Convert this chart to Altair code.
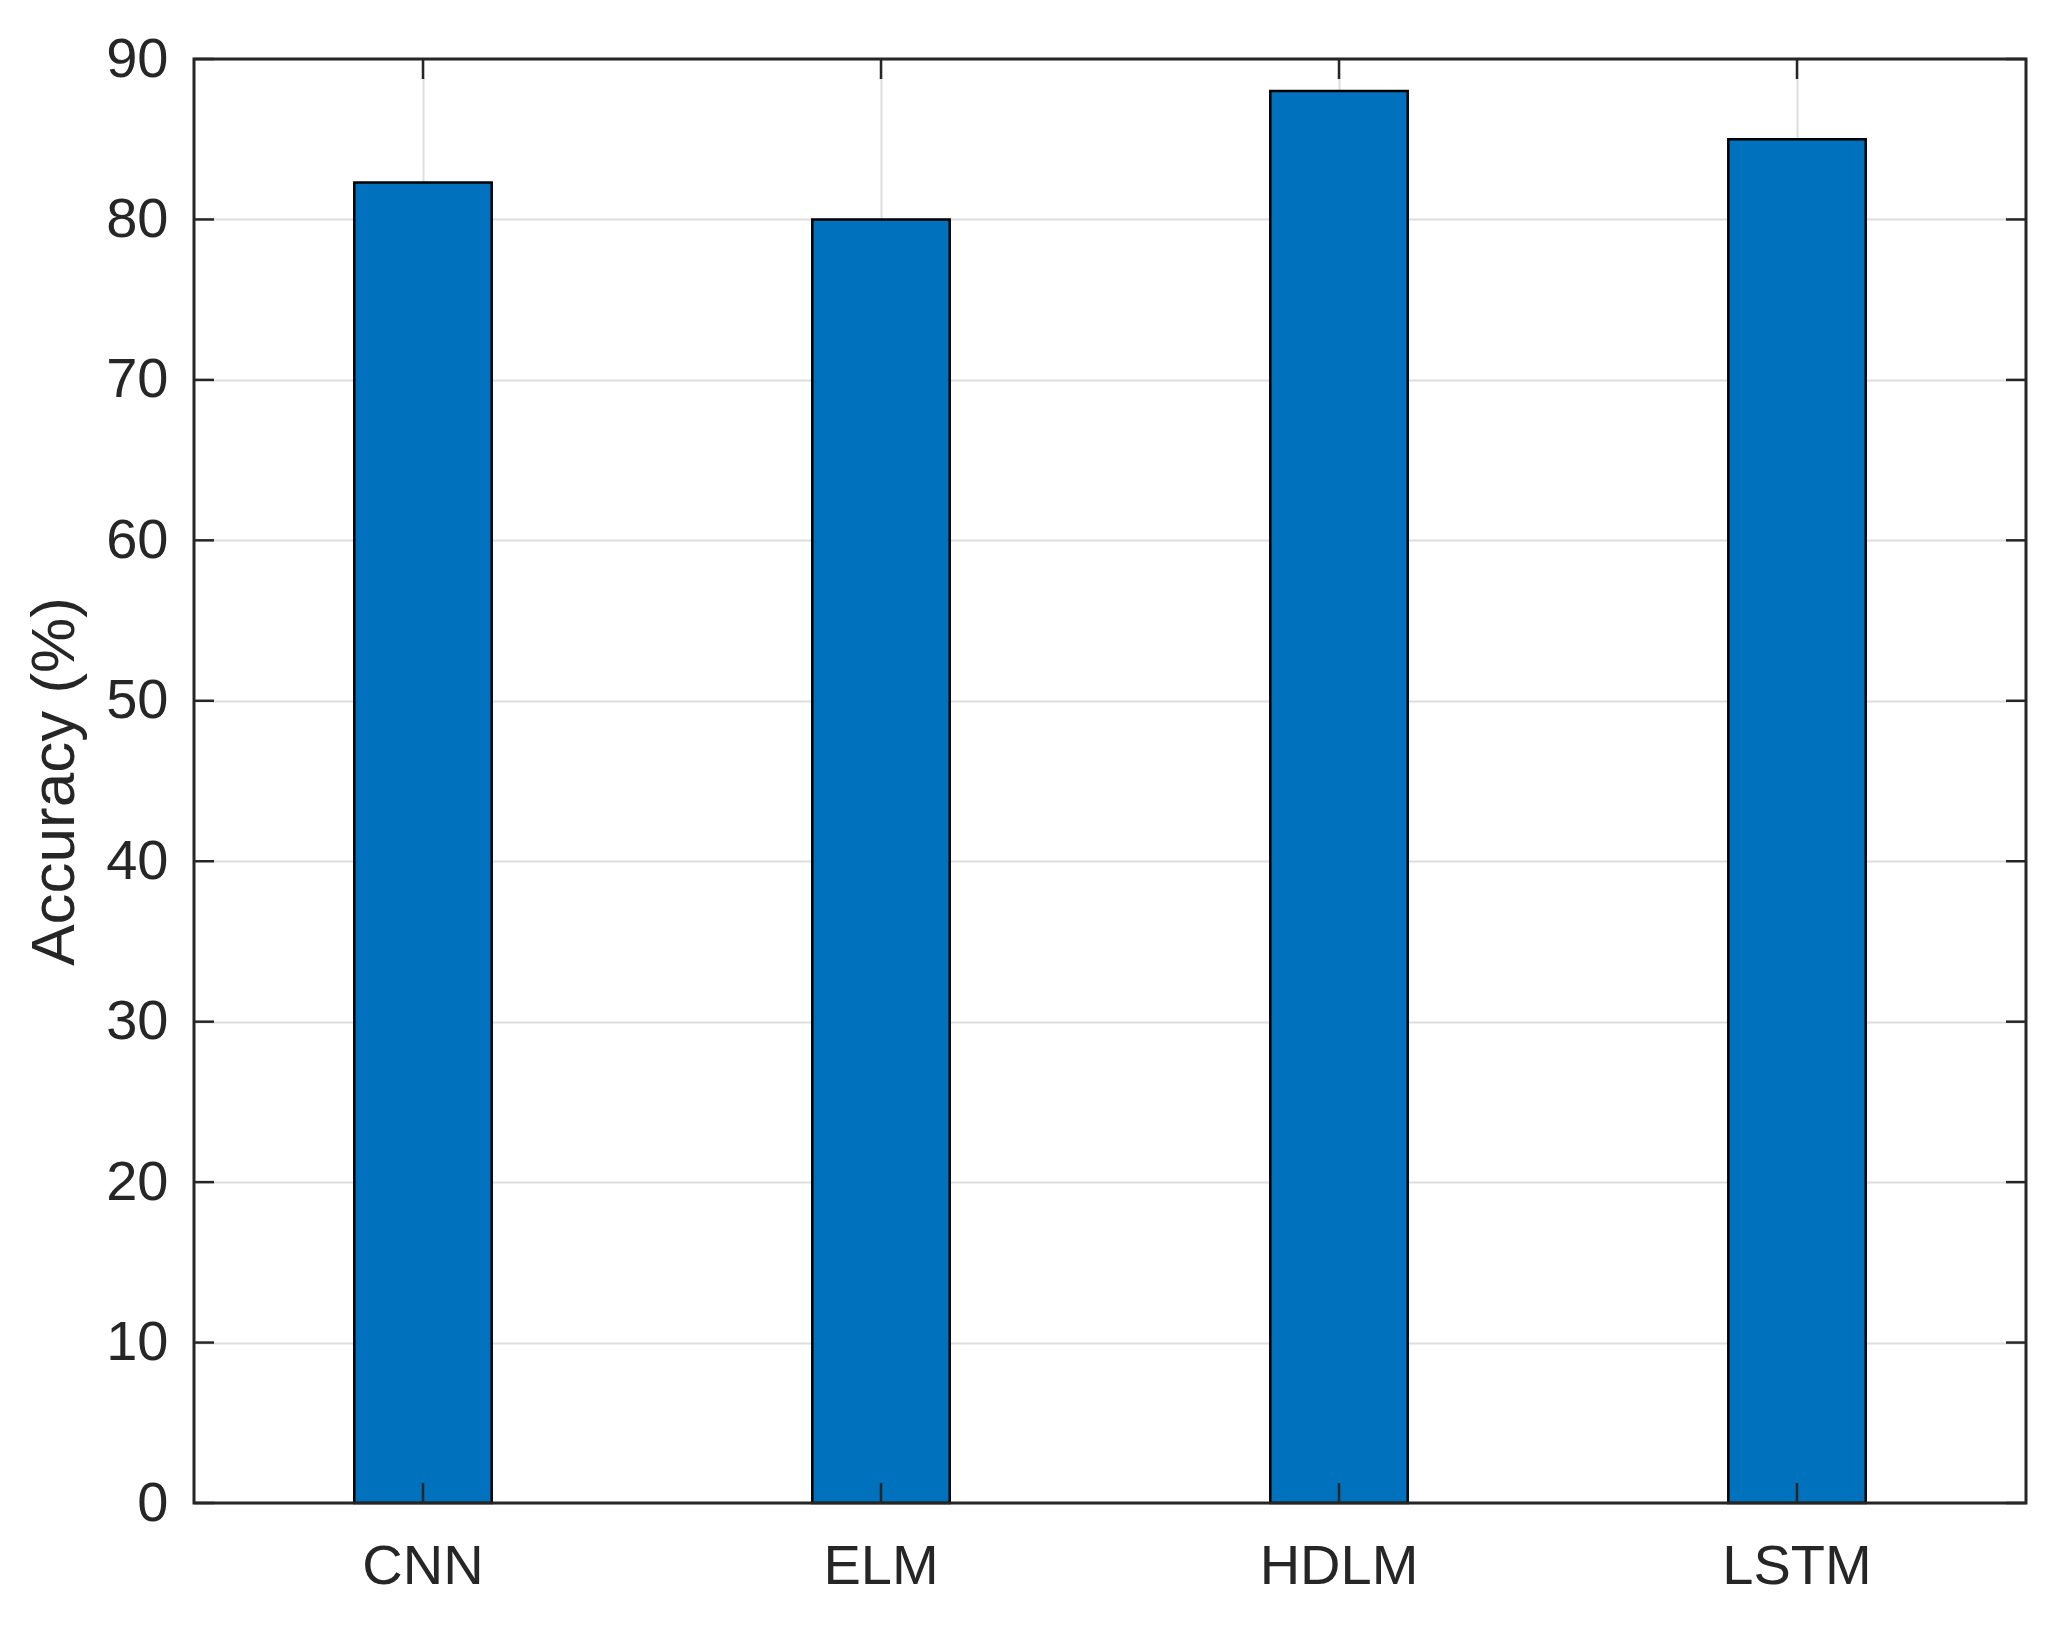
import altair as alt
import pandas as pd

categories = ["CNN", "ELM", "HDLM", "LSTM"]
accuracy = [82.3, 80.0, 88.0, 85.0]
y_ticks = [0, 10, 20, 30, 40, 50, 60, 70, 80, 90]

W, H = 1832, 1444
FONT = "Liberation Sans"
TXT = "#262626"
TICK = 20

df = pd.DataFrame({"model": categories, "acc": accuracy})
ydf = pd.DataFrame({"v": y_ticks})
frame_df = pd.DataFrame({"k": [0]})

xscale = alt.Scale(domain=categories, paddingInner=0.7, paddingOuter=0.35)
yscale = alt.Scale(domain=[0, 90], nice=False, zero=True)

xaxis = alt.Axis(
    title=None, labelFont=FONT, labelFontSize=56, labelColor=TXT, labelPadding=36,
    ticks=False, tickSize=0, domain=False, grid=True, gridColor="#dedede", gridWidth=2,
    bandPosition=0.5, labelAngle=0,
)
yaxis = alt.Axis(
    title="Accuracy (%)", titleFont=FONT, titleFontSize=62, titleColor=TXT,
    titleFontWeight="normal", titleX=-108, titleY=H / 2,
    labelFont=FONT, labelFontSize=56, labelColor=TXT, labelPadding=26,
    ticks=False, tickSize=0, domain=False, grid=True, gridColor="#dedede", gridWidth=2,
    values=y_ticks,
)

bars = alt.Chart(df).mark_bar(
    color="#0072BD", stroke="#000000", strokeWidth=2.5
).encode(
    x=alt.X("model:N", scale=xscale, axis=xaxis, sort=categories),
    y=alt.Y("acc:Q", scale=yscale, axis=yaxis),
)

tick_style = dict(color=TXT, strokeWidth=2.5)

yt_left = alt.Chart(ydf).mark_rule(**tick_style).encode(
    y=alt.Y("v:Q", scale=yscale), x=alt.value(0), x2=alt.value(TICK)
)
yt_right = alt.Chart(ydf).mark_rule(**tick_style).encode(
    y=alt.Y("v:Q", scale=yscale), x=alt.value(W - TICK), x2=alt.value(W)
)
xt_bottom = alt.Chart(df).mark_rule(**tick_style).encode(
    x=alt.X("model:N", scale=xscale, sort=categories), y=alt.value(H), y2=alt.value(H - TICK)
)
xt_top = alt.Chart(df).mark_rule(**tick_style).encode(
    x=alt.X("model:N", scale=xscale, sort=categories), y=alt.value(0), y2=alt.value(TICK)
)
frame = alt.Chart(frame_df).mark_rect(
    filled=False, stroke=TXT, strokeWidth=3
).encode(
    x=alt.value(0), x2=alt.value(W), y=alt.value(0), y2=alt.value(H)
)

chart = alt.layer(bars, yt_left, yt_right, xt_bottom, xt_top, frame).properties(
    width=W, height=H,
    autosize=alt.AutoSizeParams(type="none"),
    padding={"left": 186, "top": 51, "right": 30, "bottom": 120},
    background="white",
).configure_view(stroke=None)

chart.save("out.html", embed_options={"renderer": "svg", "actions": False})
